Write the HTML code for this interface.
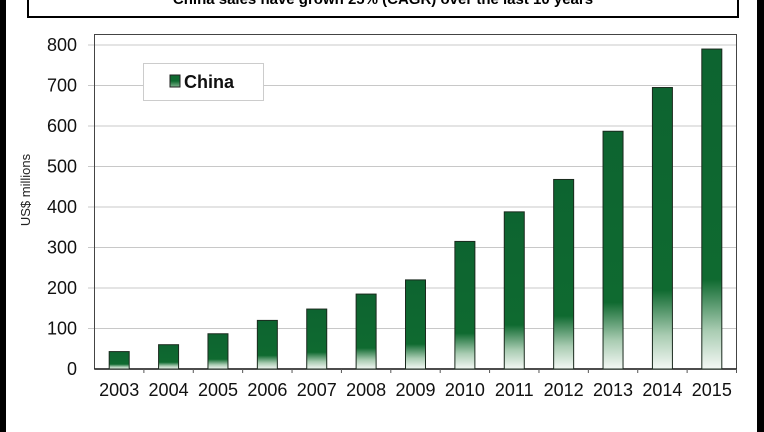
<!DOCTYPE html>
<html><head><meta charset="utf-8"><style>
html,body{margin:0;padding:0;background:#fff;width:764px;height:432px;overflow:hidden}
svg{display:block;font-family:"Liberation Sans",Arial,sans-serif}
</style></head><body>
<svg id="chart" width="764" height="432">
<defs>
<linearGradient id="barGrad" x1="0" y1="1" x2="0" y2="0">
<stop offset="0" stop-color="#f4f8f5"/>
<stop offset="0.12" stop-color="#a9ccb2"/>
<stop offset="0.28" stop-color="#0f6a30"/>
<stop offset="1" stop-color="#0d6430"/>
</linearGradient>
<linearGradient id="legGrad" x1="0" y1="1" x2="0" y2="0"><stop offset="0" stop-color="#7fb38d"/><stop offset="0.5" stop-color="#0f6a30"/></linearGradient>
</defs>
<rect x="0" y="0" width="6" height="432" fill="#000"/>
<rect x="757" y="0" width="7" height="432" fill="#000"/>
<rect x="28" y="-4" width="710" height="21" fill="#fff" stroke="#000" stroke-width="2"/>
<text x="383" y="4" text-anchor="middle" font-size="15" font-weight="bold">China sales have grown 25% (CAGR) over the last 10 years</text>
<g id="grid"></g>
<rect x="94.5" y="34.5" width="642" height="334.5" fill="none" stroke="#444" stroke-width="1"/>
<g id="bars"></g>
<g id="xlabels"></g>
<g id="ylabels"></g>
<text transform="translate(30,190) rotate(-90)" text-anchor="middle" font-size="13" fill="#222">US$ millions</text>
<g>
<rect x="143.5" y="63.5" width="120" height="37" fill="#fff" stroke="#ccc"/>
<rect x="170" y="75" width="10" height="12" fill="url(#legGrad)" stroke="#222"/>
<text x="184" y="88" font-size="18" font-weight="bold" fill="#111">China</text>
</g>
</svg>
<script>
const categories=["2003","2004","2005","2006","2007","2008","2009","2010","2011","2012","2013","2014","2015"];
const values=[43,60,87,120,148,185,220,315,388,468,587,695,790];
const yTicks=[0,100,200,300,400,500,600,700,800];
const NS="http://www.w3.org/2000/svg";
const left=94.5,right=736.5,y0=369,ymaxPix=45,ymax=800;
const y=v=>y0-(v/ymax)*(y0-ymaxPix);
const band=(right-left)/categories.length;
const x=i=>left+band*(i+0.5);
function mk(t,a,p){const e=document.createElementNS(NS,t);for(const k in a)e.setAttribute(k,a[k]);p.appendChild(e);return e;}
const grid=document.getElementById('grid'),yl=document.getElementById('ylabels');
yTicks.forEach(v=>{
  if(v>0){const l=mk('line',{x1:88,x2:right,y1:y(v),y2:y(v),stroke:'#c8c8c8','stroke-width':1},grid);
  
  }
  const t=mk('text',{x:77,y:y(v)+6,'text-anchor':'end','font-size':18,fill:'#111'},yl);
  t.textContent=v;
  
  
});
const bars=document.getElementById('bars'),xl=document.getElementById('xlabels');
mk('line',{x1:left,x2:right,y1:y0,y2:y0,stroke:'#111','stroke-width':1.5},bars);
categories.forEach((c,i)=>{
  const w=20;
  const r=mk('rect',{x:x(i)-w/2,y:y(values[i]),width:w,height:y0-y(values[i]),fill:'url(#barGrad)',stroke:'#1a2a1e','stroke-width':1},bars);
  
  
  const tk=mk('line',{x1:left+band*(i+1),x2:left+band*(i+1),y1:y0,y2:y0+4,stroke:'#555'},bars);
  
  
  const t=mk('text',{x:x(i),y:396,'text-anchor':'middle','font-size':18,fill:'#111'},xl);
  t.textContent=c;
  
  
});
</script>
</body></html>
